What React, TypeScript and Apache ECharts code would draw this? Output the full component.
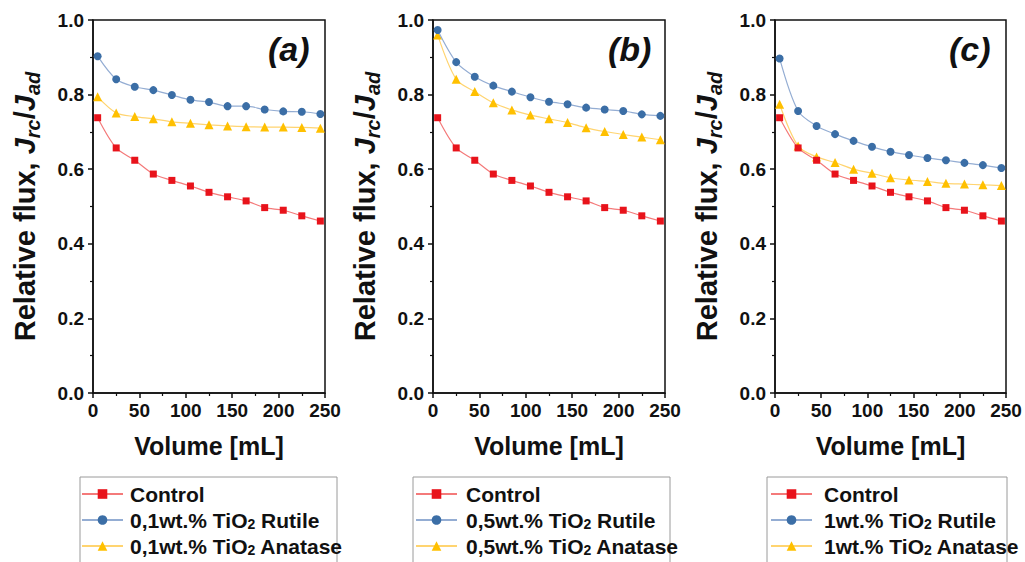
import React, { useEffect, useRef } from "react";
import * as echarts from "echarts";

const volumes = [5, 25, 45, 65, 85, 105, 125, 145, 165, 185, 205, 225, 245];
const control = [0.738, 0.657, 0.624, 0.587, 0.570, 0.555, 0.538, 0.526, 0.515, 0.497, 0.490, 0.475, 0.461];
const rutileA = [0.903, 0.841, 0.821, 0.812, 0.799, 0.786, 0.780, 0.769, 0.769, 0.760, 0.755, 0.754, 0.748];
const anataseA = [0.794, 0.751, 0.741, 0.735, 0.727, 0.723, 0.719, 0.716, 0.714, 0.713, 0.713, 0.712, 0.710];
const rutileB = [0.973, 0.887, 0.848, 0.824, 0.808, 0.793, 0.781, 0.774, 0.765, 0.760, 0.756, 0.747, 0.743];
const anataseB = [0.960, 0.841, 0.808, 0.778, 0.759, 0.745, 0.735, 0.725, 0.711, 0.701, 0.693, 0.686, 0.679];
const rutileC = [0.897, 0.756, 0.716, 0.694, 0.676, 0.660, 0.647, 0.638, 0.630, 0.624, 0.617, 0.611, 0.603];
const anataseC = [0.774, 0.662, 0.633, 0.618, 0.600, 0.589, 0.577, 0.571, 0.567, 0.562, 0.560, 0.558, 0.556];

const panelLabels = ["(a)", "(b)", "(c)"];
const loadings = ["0,1wt.%", "0,5wt.%", "1wt.%"];
const xTitle = "Volume [mL]";

const panels = [
  { rutile: rutileA, anatase: anataseA },
  { rutile: rutileB, anatase: anataseB },
  { rutile: rutileC, anatase: anataseC },
];

const gridLefts = [93, 433, 775];
const gridRights = [325, 665, 1006];
const boxLefts = [80, 413, 767];
const boxRights = [337, 670, 1007];
const legendLefts = [81, 415, 770];
const legendTextPads = [2, 4, 7];

const FONT = "'Liberation Sans', Arial, sans-serif";

export default function App() {
  const ref = useRef<HTMLDivElement>(null);
  useEffect(() => {
    if (!ref.current) return;
    const chart = echarts.init(ref.current, null, { renderer: "svg" });
    const grids: any[] = [];
    const xAxes: any[] = [];
    const yAxes: any[] = [];
    const series: any[] = [];
    const legends: any[] = [];
    const graphics: any[] = [];
    panels.forEach((p, i) => {
      grids.push({
        left: gridLefts[i],
        width: gridRights[i] - gridLefts[i],
        top: 20,
        height: 373,
        show: true,
        borderColor: "#111",
        borderWidth: 1.5,
        backgroundColor: "transparent",
      });
      xAxes.push({
        type: "value",
        gridIndex: i,
        min: 0,
        max: 250,
        interval: 50,
        name: xTitle,
        nameLocation: "middle",
        nameGap: 40,
        nameTextStyle: { fontFamily: FONT, fontSize: 25, fontWeight: "bold", color: "#111" },
        axisLine: { show: true, lineStyle: { color: "#111", width: 1.5 } },
        axisTick: { show: true, inside: false, length: 5, lineStyle: { color: "#111", width: 1.5 } },
        minorTick: { show: true, splitNumber: 2, length: 3, lineStyle: { color: "#111", width: 1.2 } },
        splitLine: { show: false },
        axisLabel: { fontFamily: FONT, fontSize: 19, fontWeight: "bold", color: "#111", margin: 8 },
      });
      yAxes.push({
        type: "value",
        gridIndex: i,
        min: 0,
        max: 1,
        interval: 0.2,
        name: "{n|Relative flux, }{i|J}{s|rc}{n|/}{i|J}{s|ad}",
        nameLocation: "middle",
        nameGap: 50,
        nameTextStyle: {
          fontFamily: FONT,
          color: "#111",
          rich: {
            n: { fontFamily: FONT, fontSize: 29, fontWeight: "bold", color: "#111", lineHeight: 36 },
            i: { fontFamily: FONT, fontSize: 29, fontWeight: "bold", fontStyle: "italic", color: "#111", lineHeight: 36 },
            s: { fontFamily: FONT, fontSize: 20, fontWeight: "bold", fontStyle: "italic", color: "#111", lineHeight: 18, verticalAlign: "bottom" },
          },
        },
        axisLine: { show: true, lineStyle: { color: "#111", width: 1.5 } },
        axisTick: { show: true, inside: false, length: 5, lineStyle: { color: "#111", width: 1.5 } },
        minorTick: { show: true, splitNumber: 2, length: 3, lineStyle: { color: "#111", width: 1.2 } },
        splitLine: { show: false },
        axisLabel: {
          fontFamily: FONT,
          fontSize: 19,
          fontWeight: "bold",
          color: "#111",
          margin: 9,
          formatter: (v: number) => v.toFixed(1),
        },
      });
      const names = [
        "Control",
        `${loadings[i]} TiO2 Rutile`,
        `${loadings[i]} TiO2 Anatase`,
      ];
      const dataSets = [control, p.rutile, p.anatase];
      const markerColors = ["#e8131b", "#3b6ea6", "#ffc000"];
      const lineColors = ["#f47a7a", "#94add3", "#ffd470"];
      const symbols = ["rect", "circle", "triangle"];
      const sizes = [7, 8, 9];
      dataSets.forEach((d, k) => {
        series.push({
          type: "line",
          name: names[k],
          xAxisIndex: i,
          yAxisIndex: i,
          data: volumes.map((v, j) => [v, d[j]]),
          smooth: 0.3,
          symbol: symbols[k],
          symbolSize: sizes[k],
          showSymbol: true,
          itemStyle: { color: markerColors[k] },
          lineStyle: { color: lineColors[k], width: 1.2 },
          z: 3 - k + 2,
        });
      });
      legends.push({
        orient: "vertical",
        left: legendLefts[i],
        top: 483,
        height: 100,
        data: names,
        itemWidth: 41,
        itemHeight: 12,
        itemGap: 4,
        padding: 0,
        selectedMode: false,
        formatter: (name: string) => {
          const parts = name.split("TiO2");
          if (parts.length < 2) return `{n|${name}}`;
          return `{n|${parts[0]}TiO}{s|2}{n|${parts[1]}}`;
        },
        textStyle: {
          fontFamily: FONT,
          fontSize: 21,
          fontWeight: "bold",
          color: "#111",
          lineHeight: 22,
          padding: [0, 0, 0, legendTextPads[i]],
          rich: {
            n: { fontFamily: FONT, fontSize: 21, fontWeight: "bold", color: "#111", lineHeight: 22 },
            s: { fontFamily: FONT, fontSize: 14, fontWeight: "bold", color: "#111", lineHeight: 12, verticalAlign: "bottom" },
          },
        },
      });
      graphics.push({
        type: "rect",
        shape: { x: boxLefts[i], y: 477, width: boxRights[i] - boxLefts[i], height: 120 },
        style: { fill: "none", stroke: "#9a9a9a", lineWidth: 1 },
        silent: true,
        z: -1,
      });
      graphics.push({
        type: "text",
        left: gridRights[i] - 57,
        top: 32,
        style: {
          text: panelLabels[i],
          fontFamily: FONT,
          fontSize: 34,
          fontWeight: "bold",
          fontStyle: "italic",
          fill: "#111",
        },
      });
    });
    chart.setOption({
      animation: false,
      backgroundColor: "#fff",
      grid: grids,
      xAxis: xAxes,
      yAxis: yAxes,
      series,
      legend: legends,
      graphic: graphics,
    });
    return () => chart.dispose();
  }, []);
  return (
    <div
      ref={ref}
      style={{ position: "fixed", left: 0, top: 0, width: 1025, height: 562 }}
    />
  );
}
